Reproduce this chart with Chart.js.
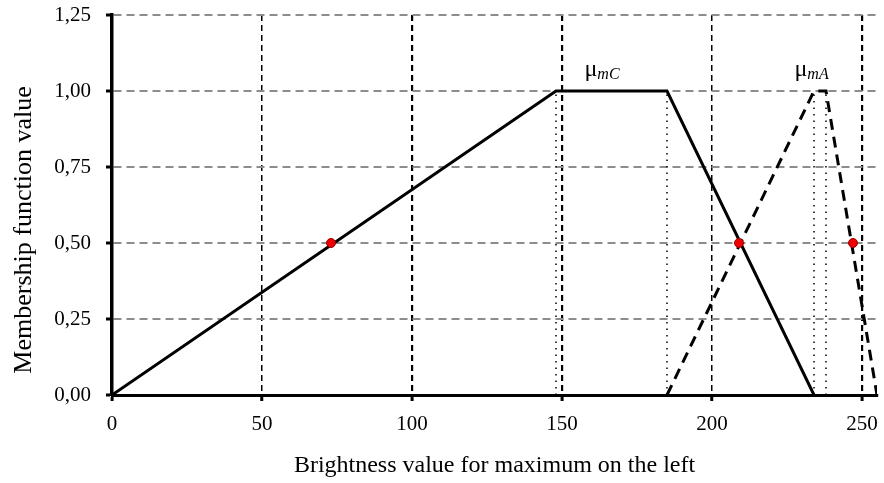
<!DOCTYPE html>
<html>
<head>
<meta charset="utf-8">
<script src="https://cdn.jsdelivr.net/npm/chart.js@4"></script>
<style>
html,body{margin:0;padding:0;background:#fff;}
#wrap{width:884px;height:483px;position:relative;}
</style>
</head>
<body>
<div id="wrap"><canvas id="c" width="884" height="483"></canvas></div>
<script>
// ---- data ----
const xTicks = [0, 50, 100, 150, 200, 250];
const yTicks = [0, 0.25, 0.5, 0.75, 1.0, 1.25];
const muC_x = [0, 148, 185, 234];
const muC_y = [0, 1, 1, 0];
const muA_x = [185, 234, 238, 255];
const muA_y = [0, 1, 1, 0];
const dotLines_x = [148, 185, 234, 238];
const dotLines_top = [1, 1, 1, 1];
const redPts_x = [73, 209, 247];
const redPts_y = [0.5, 0.5, 0.5];
const curveLabels = [
  {main: 'μ', sub: 'mC', x: 157.5, y: 1.05},
  {main: 'μ', sub: 'mA', x: 227.5, y: 1.05}
];
const xTitle = 'Brightness value for maximum on the left';
const yTitle = 'Membership function value';

const pts = (xs, ys) => xs.map((x, i) => ({x: x, y: ys[i]}));
const FONT = "'Liberation Serif', 'Times New Roman', serif";

const datasets = [];
dotLines_x.forEach((x, i) => {
  datasets.push({
    data: [{x: x, y: 0}, {x: x, y: dotLines_top[i]}],
    showLine: true, borderColor: '#000', borderWidth: 1.5,
    borderDash: [1.5, 5], pointRadius: 0, order: 5
  });
});
datasets.push({
  data: pts(muC_x, muC_y), showLine: true, borderColor: '#000',
  borderWidth: 3, pointRadius: 0, order: 3
});
datasets.push({
  data: pts(muA_x, muA_y), showLine: true, borderColor: '#000',
  borderWidth: 3, borderDash: [11, 7], pointRadius: 0, order: 3
});
datasets.push({
  data: pts(redPts_x, redPts_y), showLine: false, pointRadius: 4.5,
  pointBackgroundColor: '#ee0000', pointBorderColor: '#900', pointBorderWidth: 1, order: 1
});

const labelPlugin = {
  id: 'curveLabels',
  afterDatasetsDraw(chart) {
    const ctx = chart.ctx;
    const xs = chart.scales.x, ys = chart.scales.y;
    ctx.save();
    ctx.fillStyle = '#000';
    ctx.textBaseline = 'alphabetic';
    curveLabels.forEach(l => {
      const px = xs.getPixelForValue(l.x);
      const py = ys.getPixelForValue(l.y);
      ctx.font = "24px " + FONT;
      ctx.textAlign = 'left';
      ctx.fillText(l.main, px, py);
      const w = ctx.measureText(l.main).width;
      ctx.font = "italic 16px " + FONT;
      ctx.fillText(l.sub, px + w, py + 3);
    });
    // y axis title
    const cy = (ys.top + ys.bottom) / 2 + 25;
    ctx.translate(24, cy);
    ctx.rotate(-Math.PI / 2);
    ctx.font = "26px " + FONT;
    ctx.textAlign = 'center';
    ctx.textBaseline = 'middle';
    ctx.fillText(yTitle, 0, 0);
    ctx.restore();
  }
};

new Chart(document.getElementById('c'), {
  type: 'scatter',
  data: {datasets: datasets},
  plugins: [labelPlugin],
  options: {
    responsive: false,
    animation: false,
    layout: {padding: {top: 15, right: 7, left: 0, bottom: 0}},
    plugins: {legend: {display: false}, tooltip: {enabled: false}},
    scales: {
      x: {
        type: 'linear', min: 0, max: 255,
        afterBuildTicks(s) { s.ticks = xTicks.map(v => ({value: v})); },
        afterFit(s) { s.height = 88; s.paddingRight = 0; s.paddingLeft = 0; },
        ticks: {
          color: '#000', font: {family: FONT, size: 21}, padding: 11,
          maxRotation: 0, autoSkip: false,
          callback: v => String(v)
        },
        grid: {
          color: c => (c.tick && c.tick.value === 0) ? 'rgba(0,0,0,0)' : '#000',
          lineWidth: c => (c.tick && (c.tick.value === 50 || c.tick.value === 200)) ? 1.5 : 2.2,
          drawTicks: true, tickLength: 6, tickColor: '#000', tickWidth: 3
        },
        border: {display: true, color: '#000', width: 3, dash: [6, 4]},
        title: {display: true, text: xTitle, color: '#000',
          font: {family: FONT, size: 24}, padding: {top: 0, bottom: 3}}
      },
      y: {
        type: 'linear', min: 0, max: 1.25,
        afterBuildTicks(s) { s.ticks = yTicks.map(v => ({value: v})); },
        afterFit(s) { s.width = 112; s.paddingTop = 0; s.paddingBottom = 0; },
        ticks: {
          color: '#000', font: {family: FONT, size: 21}, padding: 15,
          autoSkip: false,
          callback: v => Number(v).toFixed(2).replace('.', ',')
        },
        grid: {
          color: c => (c.tick && c.tick.value === 0) ? 'rgba(0,0,0,0)' : '#8c8c8c',
          lineWidth: 2,
          drawTicks: true, tickLength: 6, tickColor: '#000', tickWidth: 3
        },
        border: {display: true, color: '#000', width: 3.5, dash: [8, 5]},
        title: {display: false}
      }
    }
  }
});
</script>
</body>
</html>
